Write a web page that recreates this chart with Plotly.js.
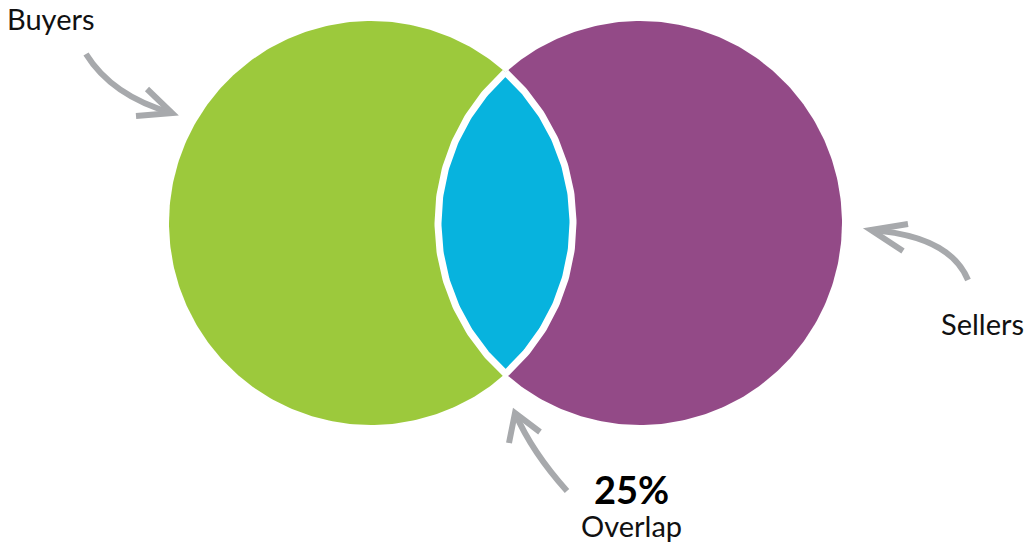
<!DOCTYPE html>
<html>
<head>
<meta charset="utf-8">
<script src="https://cdn.plot.ly/plotly-3.0.1.min.js"></script>
<style>html,body{margin:0;padding:0;background:#fff;}#chart{width:1025px;height:544px;}</style>
</head>
<body>
<div id="chart"></div>
<script>
// Data
var setNames = ['Buyers', 'Sellers'];
var setSizes = [100, 100];
var overlapPct = [25];
var overlapLabel = ['Overlap'];
var setColors = ['#9CC93C', '#934A87'];
var overlapColor = '#07B3DE';

// Geometry (pixel-unit axes)
var R = 202;
var cy = 223;
var centers = [371, 640];

function circlePts(cx, cy, r) {
  var xs = [], ys = [];
  for (var i = 0; i <= 360; i++) {
    var a = i * Math.PI / 180;
    xs.push(cx + r * Math.cos(a));
    ys.push(cy + r * Math.sin(a));
  }
  return {x: xs, y: ys};
}

var traces = [];
for (var k = 0; k < setNames.length; k++) {
  var r = R * Math.sqrt(setSizes[k] / 100);
  var p = circlePts(centers[k], cy, r);
  traces.push({
    type: 'scatter', mode: 'lines', x: p.x, y: p.y, fill: 'toself',
    fillcolor: setColors[k], line: {width: 0, color: setColors[k]},
    hoverinfo: 'text', text: setNames[k], showlegend: false
  });
}

// Lens
var d = centers[1] - centers[0];
var h = Math.sqrt(R * R - (d / 2) * (d / 2));
var angA = Math.atan2(h, d / 2);
var lx = [], ly = [];
var n = 120;
for (var i = 0; i <= n; i++) {
  var a = -angA + 2 * angA * i / n;
  lx.push(centers[0] + R * Math.cos(a));
  ly.push(cy + R * Math.sin(a));
}
for (var i = 0; i <= n; i++) {
  var a = Math.PI - angA + 2 * angA * i / n;
  lx.push(centers[1] + R * Math.cos(a));
  ly.push(cy + R * Math.sin(a));
}
traces.push({
  type: 'scatter', mode: 'lines', x: lx, y: ly, fill: 'toself',
  fillcolor: overlapColor, line: {width: 7, color: '#ffffff'},
  hoverinfo: 'text', text: overlapPct[0] + '% ' + overlapLabel[0], showlegend: false
});

var gray = '#A7A9AC';
var aw = 6;
function sh(path) {
  return {type: 'path', xref: 'x', yref: 'y', path: path, line: {color: gray, width: aw}, fillcolor: 'rgba(0,0,0,0)'};
}
var shapes = [
  sh('M 86 54 Q 112 96 172 113'),
  sh('M 147 89 L 172 113 L 136 116'),
  sh('M 968 280 Q 950 236 871 230'),
  sh('M 908 224 L 871 230 L 903 251'),
  sh('M 567 491 Q 532 452 515 413'),
  sh('M 509 443 L 515 413 L 540 432')
];

var fontFam = 'Lato, "Open Sans", sans-serif';
var annotations = [
  {x: 51, y: 18, text: setNames[0], showarrow: false, font: {family: fontFam, size: 29, color: '#111'}},
  {x: 982, y: 323, text: setNames[1], showarrow: false, font: {family: fontFam, size: 29, color: '#111'}},
  {x: 631, y: 489, text: '<b>' + overlapPct[0] + '%</b>', showarrow: false, font: {family: fontFam, size: 38, color: '#000', weight: 900}},
  {x: 631, y: 525, text: overlapLabel[0], showarrow: false, font: {family: fontFam, size: 29, color: '#111'}}
];

var layout = {
  width: 1025, height: 544,
  margin: {l: 0, r: 0, t: 0, b: 0},
  paper_bgcolor: '#fff', plot_bgcolor: '#fff',
  xaxis: {range: [0, 1025], visible: false, fixedrange: true},
  yaxis: {range: [544, 0], visible: false, fixedrange: true},
  shapes: shapes,
  annotations: annotations,
  showlegend: false
};

Plotly.newPlot('chart', traces, layout, {displayModeBar: false, staticPlot: true});
</script>
</body>
</html>
